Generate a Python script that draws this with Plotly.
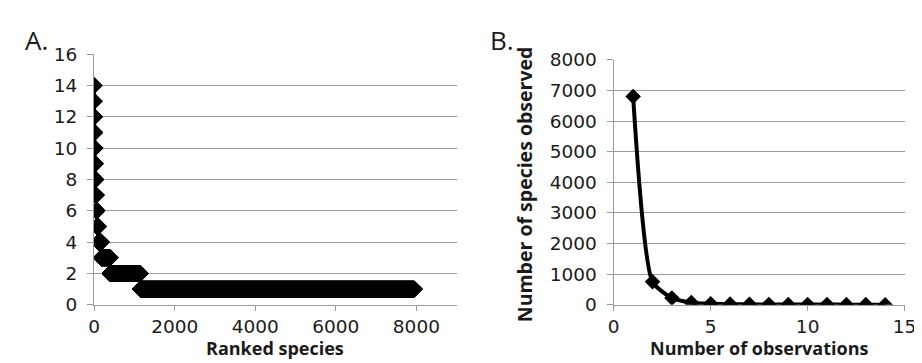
import numpy as np
import plotly.graph_objects as go

# Panel B: frequency table (number of observations -> number of species)
observations = [1, 2, 3, 4, 5, 6, 7, 8, 9, 10, 11, 12, 13, 14]
species_count = [6800, 750, 220, 70, 35, 20, 14, 10, 8, 6, 5, 4, 3, 2]

# Panel A: rank-abundance built from the same table (highest abundance first)
abund_values = observations[::-1]
abund_runs = species_count[::-1]
rank_y = np.repeat(abund_values, abund_runs)
rank_x = np.arange(1, len(rank_y) + 1)

xa_ticks = [0, 2000, 4000, 6000, 8000]
ya_ticks = [0, 2, 4, 6, 8, 10, 12, 14, 16]
xb_ticks = [0, 5, 10, 15]
yb_ticks = [0, 1000, 2000, 3000, 4000, 5000, 6000, 7000, 8000]

W, H = 922, 363
FONT = "Open Sans"
TICKFONT = "DejaVu Sans"
TXT = "#1a1a1a"
GRID = "#9a9a9a"

fig = go.Figure()
fig.add_trace(go.Scatter(
    x=rank_x, y=rank_y, mode="lines+markers",
    line=dict(color="black", width=3),
    marker=dict(symbol="diamond", size=13, color="black"),
    xaxis="x", yaxis="y", showlegend=False, hoverinfo="skip"))
fig.add_trace(go.Scatter(
    x=observations, y=species_count, mode="lines+markers",
    line=dict(color="black", width=4, shape="spline", smoothing=0.6),
    marker=dict(symbol="diamond", size=12, color="black"),
    xaxis="x2", yaxis="y2", showlegend=False, hoverinfo="skip"))

def px_x(p):
    return p / W

def px_y(p):
    return (H - p) / H

common = dict(
    showline=True, linecolor=GRID, linewidth=1.4,
    ticks="outside", tickcolor=GRID, tickwidth=1.4,
    tickfont=dict(family=TICKFONT, size=18.5, color=TXT),
    zeroline=False,
)

fig.update_layout(
    width=W, height=H,
    margin=dict(l=0, r=0, t=0, b=0),
    paper_bgcolor="white", plot_bgcolor="white",
    xaxis=dict(domain=[px_x(81.7), px_x(451.5)], range=[0, 9000], ticklen=5,
               tickvals=xa_ticks, showgrid=False, anchor="y", **common),
    yaxis=dict(domain=[px_y(303.3), px_y(37.3)], range=[0, 16], ticklen=6,
               tickvals=ya_ticks, showgrid=True, gridcolor=GRID, gridwidth=1.4,
               anchor="x", ticklabelstandoff=6, **common),
    xaxis2=dict(domain=[px_x(611.7), px_x(908.3)], range=[0, 15], ticklen=5,
                tickvals=xb_ticks, showgrid=False, anchor="y2", **common),
    yaxis2=dict(domain=[px_y(303.3), px_y(43.3)], range=[0, 8000], ticklen=6,
                tickvals=yb_ticks, showgrid=True, gridcolor=GRID, gridwidth=1.4,
                anchor="x2", ticklabelstandoff=6, **common),
    annotations=[
        dict(text="<b>Ranked species</b>", x=px_x(266), y=0, xref="paper", yref="paper",
             showarrow=False, font=dict(family=FONT, size=18, color=TXT),
             xanchor="center", yanchor="bottom", borderpad=0),
        dict(text="<b>Number of observations</b>", x=px_x(760), y=0,
             xref="paper", yref="paper", showarrow=False,
             font=dict(family=FONT, size=18, color=TXT), xanchor="center",
             yanchor="bottom", borderpad=0),
        dict(text="<b>Number of species observed</b>", x=px_x(521.5), y=px_y(175),
             xref="paper", yref="paper", showarrow=False, textangle=-90,
             font=dict(family=FONT, size=19.5, color=TXT), xanchor="center", yanchor="middle"),
        dict(text="A.", x=px_x(9), y=px_y(22), xref="paper", yref="paper",
             showarrow=False, font=dict(family=FONT, size=26, color=TXT),
             xanchor="left", yanchor="middle"),
        dict(text="B.", x=px_x(483), y=px_y(22), xref="paper", yref="paper",
             showarrow=False, font=dict(family=FONT, size=26, color=TXT),
             xanchor="left", yanchor="middle"),
    ],
)

fig.write_html("out.html")
